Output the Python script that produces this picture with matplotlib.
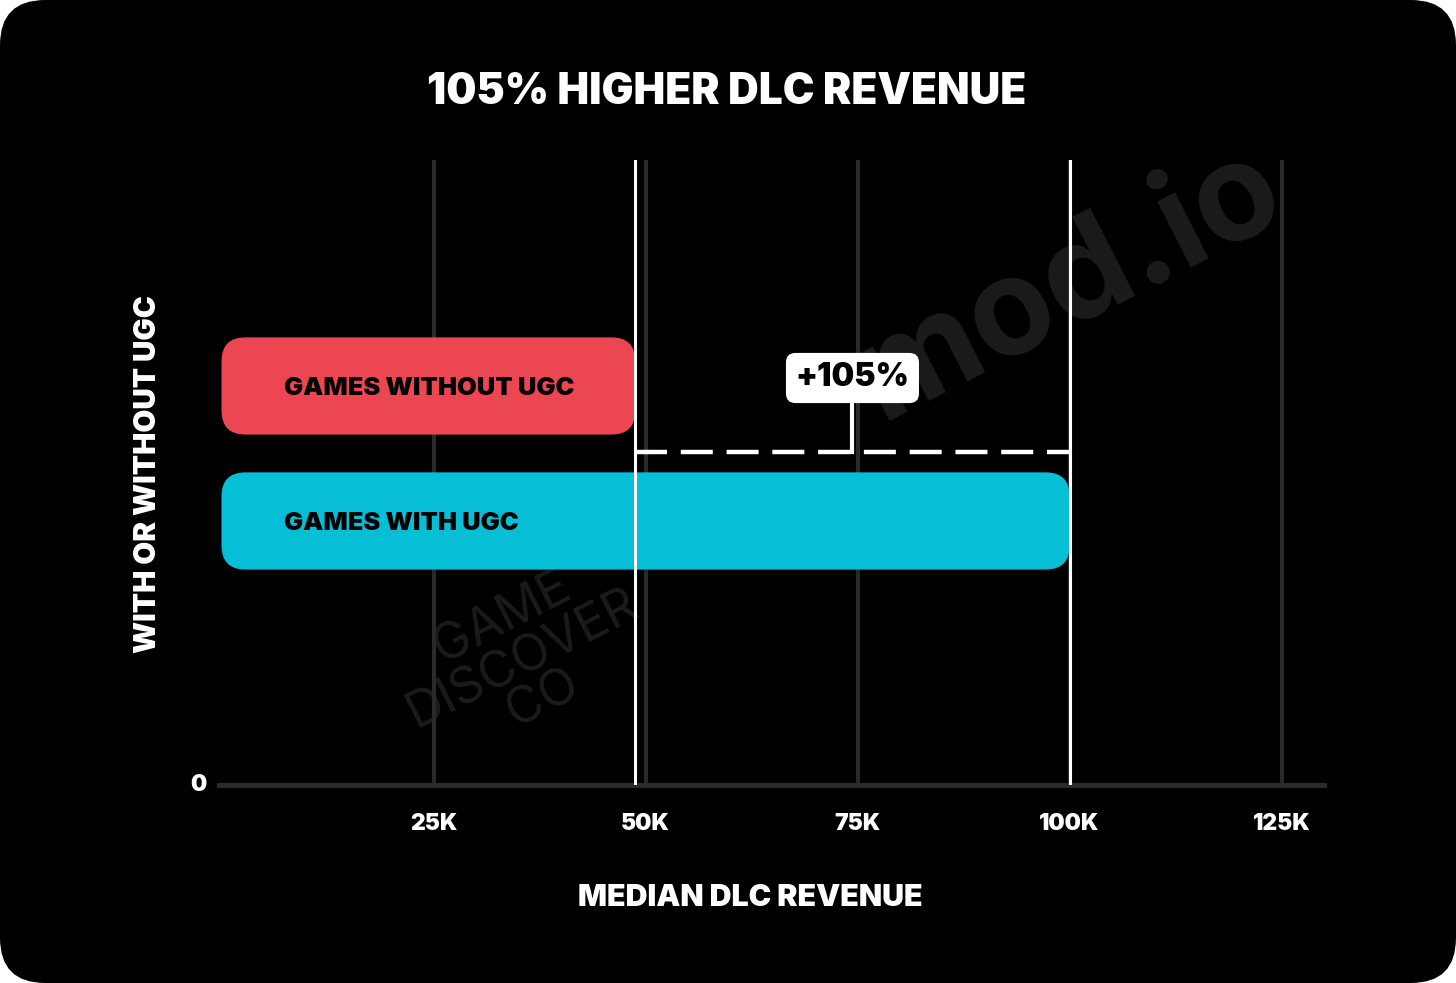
import matplotlib
matplotlib.use("Agg")
import matplotlib.pyplot as plt
from matplotlib.patches import FancyBboxPatch

# data
categories = ["GAMES WITH UGC", "GAMES WITHOUT UGC"]
revenue_k = [100.0, 48.8]
bar_colors = ["#06BFD7", "#EB4651"]
x_ticks = [25, 50, 75, 100, 125]
x_tick_labels = ["25K", "50K", "75K", "100K", "125K"]
uplift_label = "+105%"

FONT = ["Inter", "DejaVu Sans"]
W, H = 1456, 983

fig = plt.figure(figsize=(W / 100, H / 100), dpi=100, facecolor="white")
bg = FancyBboxPatch((0, 0), 1, 1, boxstyle="round,pad=0,rounding_size=0.031",
                    mutation_aspect=W / H, transform=fig.transFigure,
                    facecolor="black", edgecolor="none", zorder=-10)
fig.patches.append(bg)

# axes placed in pixel terms of the 1456x983 canvas
ax_left, ax_right, ax_top, ax_bottom = 221.5, 1324, 160, 785
ax = fig.add_axes([ax_left / W, (H - ax_bottom) / H, (ax_right - ax_left) / W, (ax_bottom - ax_top) / H])
ax.set_facecolor("none")
for s in ax.spines.values():
    s.set_visible(False)
xmax = 130.0
ymin, ymax = -0.956, 3.674
ax.set_xlim(0, xmax)
ax.set_ylim(ymin, ymax)
ax.set_xticks([])
ax.set_yticks([])

x_per_px = xmax / (ax_right - ax_left)
y_per_px = (ymax - ymin) / (ax_bottom - ax_top)

y_pos = [1, 2]
bar_h = 0.72
rad_px = 24
for y, val, col, name in zip(y_pos, revenue_k, bar_colors, categories):
    p = FancyBboxPatch((0, y - bar_h / 2), val, bar_h,
                       boxstyle=f"round,pad=0,rounding_size={rad_px * x_per_px}",
                       mutation_aspect=y_per_px / x_per_px,
                       facecolor=col, edgecolor="none", zorder=3)
    ax.add_patch(p)
    ax.text(62 * x_per_px, y - 2.5 * y_per_px, name, ha="left", va="center", fontsize=18.3,
            fontweight=900, family=FONT, color="black", zorder=4)

# gridlines and baseline
for t in x_ticks:
    ax.axvline(t, color="#2a2a2a", lw=3, zorder=1, solid_capstyle="round")
ax.axhline(ymin, xmin=-0.002, color="#2a2a2a", lw=3.6, zorder=1, clip_on=False)

# white reference lines at each bar's value
for val in revenue_k:
    ax.axvline(val, color="white", lw=2.2, zorder=3.5)

# dashed bracket with uplift label
low, high = min(revenue_k), max(revenue_k)
mid = (low + high) / 2
dash_y = ymin + (ax_bottom - 452) * y_per_px
box_y = ymin + (ax_bottom - 378) * y_per_px
ax.plot([low, high], [dash_y, dash_y], color="white", lw=3.2, dashes=(7.2, 3.1), zorder=5)
ax.plot([mid, mid], [dash_y, box_y - 0.1], color="white", lw=3, zorder=5)
ax.text(mid, box_y, uplift_label, ha="center", va="center", fontsize=23, fontweight=900,
        family=FONT, color="black", zorder=6,
        bbox=dict(boxstyle="round,pad=0.3,rounding_size=0.3", facecolor="white", edgecolor="none"))

# tick labels
for t, lab in zip(x_ticks, x_tick_labels):
    ax.text(t, ymin - 39.5 * y_per_px, lab, ha="center", va="center", fontsize=16.5,
            fontweight=900, family=FONT, color="white")
ax.text(-23 * x_per_px, ymin, "0", ha="center", va="center", fontsize=16.5,
        fontweight=900, family=FONT, color="white")

# faint watermarks
ax.text(100, 2.75, "mod.io", ha="center", va="center", rotation=27, fontsize=98,
        fontweight="bold", family=FONT, color="#1b1b1b", zorder=0.5)
ax.text(35.5, -0.02, "GAME\nDISCOVER\nCO", ha="center", va="center", rotation=27, fontsize=36,
        family=FONT, color="#1b1b1b", zorder=0.5, linespacing=0.95)

fig.text(727 / W, 1 - 93 / H, "105% HIGHER DLC REVENUE", ha="center", va="center",
         fontsize=30.5, fontweight=900, family=FONT, color="white")
fig.text(750 / W, 1 - 898 / H, "MEDIAN DLC REVENUE", ha="center", va="center",
         fontsize=21.9, fontweight=900, family=FONT, color="white")
fig.text(148.5 / W, 1 - 474 / H, "WITH OR WITHOUT UGC", ha="center", va="center", rotation=90,
         fontsize=21.4, fontweight=900, family=FONT, color="white")

fig.savefig("out.png", dpi=100, facecolor="white")
